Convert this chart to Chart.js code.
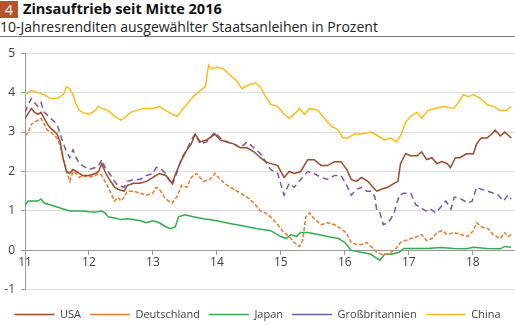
<!DOCTYPE html>
<html>
<head>
<meta charset="utf-8">
<script src="https://cdn.jsdelivr.net/npm/chart.js@4"></script>
<style>
  body { margin: 0; background: #fff; font-family: "Open Sans", sans-serif; }
  #wrap { position: relative; width: 515px; height: 325px; overflow: hidden; }
  #head { position: absolute; left: 0; top: 0; width: 515px; height: 36px; border-bottom: 1.5px solid #7a7a7a; }
  .t1 { position: absolute; left: 0; top: 0; height: 18px; line-height: 18px; font-size: 14.5px; color: #111; }
  .num { display: inline-block; width: 18px; height: 17px; line-height: 17px; margin-top: 1px; background: #b5532a; color: #fff; text-align: center; font-weight: normal; margin-right: 5px; vertical-align: top; }
  .t2 { position: absolute; left: 0; top: 18px; font-size: 14px; color: #222; line-height: 17px; }
  #box { position: absolute; left: 0; top: 40px; width: 515px; height: 290px; }
</style>
</head>
<body>
<div id="wrap">
  <div id="head">
    <div class="t1"><span class="num">4</span><b>Zinsauftrieb seit Mitte 2016</b></div>
    <div class="t2">10-Jahresrenditen ausgewählter Staatsanleihen in Prozent</div>
  </div>
  <div id="box"><canvas id="chart"></canvas></div>
</div>
<script>
// [Jahr (11 = 2011), Rendite in %]
const usa = [
  [11.0,3.35],[11.1,3.6],[11.15,3.5],[11.2,3.45],[11.25,3.5],[11.3,3.35],[11.35,3.2],[11.4,3.1],[11.5,2.95],[11.55,2.75],
  [11.6,2.3],[11.65,2.0],[11.7,1.95],[11.75,2.05],[11.8,2.0],[11.85,1.95],[11.9,1.9],[12.0,1.9],[12.1,1.95],[12.15,2.0],
  [12.2,2.2],[12.25,2.0],[12.3,1.85],[12.4,1.6],[12.45,1.55],[12.55,1.5],[12.6,1.65],[12.7,1.7],[12.8,1.7],[12.9,1.75],
  [13.0,1.85],[13.1,1.95],[13.2,1.9],[13.3,1.7],[13.37,2.0],[13.45,2.3],[13.53,2.55],[13.6,2.7],[13.66,2.95],[13.74,2.75],
  [13.84,2.8],[13.97,2.95],[14.05,2.8],[14.16,2.75],[14.26,2.7],[14.37,2.6],[14.47,2.6],[14.58,2.5],[14.68,2.35],[14.76,2.25],
  [14.84,2.2],[14.95,2.15],[15.05,1.85],[15.13,2.0],[15.21,1.95],[15.31,2.0],[15.42,2.3],[15.52,2.3],[15.63,2.15],[15.73,2.15],
  [15.84,2.25],[15.94,2.25],[16.03,2.05],[16.1,1.8],[16.18,1.75],[16.26,1.85],[16.36,1.75],[16.44,1.6],[16.5,1.5],[16.57,1.55],
  [16.67,1.6],[16.77,1.7],[16.83,1.75],[16.87,2.2],[16.95,2.45],[17.03,2.4],[17.13,2.4],[17.2,2.5],[17.28,2.3],[17.36,2.35],
  [17.44,2.2],[17.52,2.25],[17.6,2.2],[17.65,2.1],[17.73,2.35],[17.8,2.35],[17.9,2.45],[18.01,2.45],[18.06,2.7],[18.13,2.85],
  [18.22,2.85],[18.3,2.95],[18.35,3.05],[18.43,2.9],[18.5,3.0],[18.6,2.85]
];
const deutschland = [
  [11.0,2.9],[11.05,3.0],[11.1,3.2],[11.15,3.25],[11.2,3.3],[11.25,3.35],[11.3,3.2],[11.35,3.05],[11.4,3.0],[11.5,2.85],
  [11.55,2.65],[11.6,2.3],[11.65,2.0],[11.7,1.75],[11.75,2.0],[11.8,1.95],[11.85,1.85],[11.9,1.9],[12.0,1.85],[12.1,1.9],
  [12.15,1.95],[12.2,1.9],[12.25,1.75],[12.3,1.6],[12.4,1.25],[12.45,1.35],[12.5,1.25],[12.55,1.35],[12.6,1.5],[12.7,1.5],
  [12.8,1.45],[12.9,1.4],[13.0,1.45],[13.05,1.6],[13.1,1.55],[13.2,1.3],[13.3,1.2],[13.37,1.35],[13.45,1.65],[13.53,1.6],
  [13.6,1.85],[13.68,1.95],[13.79,1.75],[13.89,1.8],[13.97,1.95],[14.05,1.8],[14.16,1.65],[14.26,1.55],[14.37,1.45],[14.47,1.35],
  [14.58,1.2],[14.68,1.0],[14.76,0.95],[14.84,0.85],[14.95,0.65],[15.05,0.45],[15.13,0.35],[15.21,0.2],[15.29,0.1],[15.34,0.25],
  [15.39,0.85],[15.45,0.95],[15.52,0.8],[15.63,0.65],[15.73,0.7],[15.84,0.65],[15.94,0.55],[16.02,0.45],[16.1,0.2],[16.18,0.15],
  [16.26,0.15],[16.34,0.2],[16.41,0.1],[16.5,-0.05],[16.57,-0.1],[16.65,-0.1],[16.72,-0.05],[16.8,0.05],[16.87,0.2],[16.95,0.25],
  [17.03,0.3],[17.13,0.35],[17.2,0.4],[17.28,0.25],[17.36,0.3],[17.44,0.45],[17.52,0.5],[17.6,0.4],[17.71,0.45],[17.82,0.4],
  [17.92,0.35],[18.01,0.5],[18.06,0.7],[18.13,0.6],[18.24,0.55],[18.32,0.4],[18.43,0.3],[18.5,0.45],[18.55,0.35],[18.6,0.4]
];
const japan = [
  [11.0,1.15],[11.05,1.25],[11.1,1.25],[11.2,1.25],[11.25,1.3],[11.3,1.2],[11.4,1.15],[11.5,1.1],[11.6,1.05],[11.7,1.0],
  [11.8,1.0],[11.9,1.0],[12.0,0.98],[12.1,0.97],[12.2,1.0],[12.25,0.95],[12.3,0.85],[12.4,0.82],[12.5,0.78],[12.6,0.8],
  [12.7,0.78],[12.8,0.75],[12.9,0.7],[13.0,0.75],[13.1,0.7],[13.2,0.6],[13.28,0.55],[13.35,0.6],[13.4,0.85],[13.5,0.9],
  [13.63,0.85],[13.79,0.8],[14.0,0.75],[14.2,0.68],[14.42,0.62],[14.63,0.55],[14.84,0.5],[15.0,0.35],[15.08,0.3],[15.16,0.4],
  [15.24,0.35],[15.31,0.45],[15.42,0.45],[15.58,0.4],[15.73,0.35],[15.9,0.3],[16.0,0.2],[16.05,0.1],[16.1,0.0],[16.26,-0.05],
  [16.41,-0.1],[16.5,-0.2],[16.55,-0.25],[16.62,-0.1],[16.72,-0.1],[16.85,-0.05],[16.92,0.05],[17.08,0.05],[17.28,0.05],[17.5,0.07],
  [17.7,0.05],[17.9,0.04],[18.01,0.08],[18.22,0.05],[18.43,0.04],[18.5,0.1],[18.6,0.08]
];
const grossbritannien = [
  [11.0,3.5],[11.05,3.7],[11.1,3.85],[11.15,3.75],[11.2,3.65],[11.25,3.75],[11.3,3.5],[11.4,3.35],[11.5,3.2],[11.55,2.95],
  [11.6,2.7],[11.65,2.5],[11.7,2.35],[11.75,2.55],[11.8,2.35],[11.85,2.2],[11.9,2.15],[12.0,2.05],[12.1,2.1],[12.15,2.15],
  [12.2,2.3],[12.25,2.1],[12.3,2.0],[12.4,1.75],[12.45,1.65],[12.55,1.6],[12.6,1.75],[12.7,1.8],[12.8,1.8],[12.9,1.9],
  [13.0,1.95],[13.05,2.1],[13.1,2.1],[13.2,1.95],[13.3,1.65],[13.37,1.95],[13.45,2.35],[13.53,2.55],[13.6,2.8],[13.66,2.95],
  [13.74,2.7],[13.84,2.75],[13.97,3.0],[14.05,2.85],[14.16,2.75],[14.26,2.7],[14.37,2.6],[14.47,2.75],[14.58,2.6],[14.68,2.45],
  [14.76,2.25],[14.84,2.05],[14.95,1.95],[15.05,1.4],[15.13,1.7],[15.21,1.6],[15.31,1.8],[15.42,2.0],[15.52,1.95],[15.63,1.85],
  [15.73,1.8],[15.84,1.9],[15.94,1.9],[16.03,1.65],[16.1,1.4],[16.18,1.55],[16.26,1.6],[16.34,1.5],[16.41,1.5],[16.47,1.35],
  [16.5,1.0],[16.55,0.95],[16.6,0.65],[16.67,0.7],[16.72,0.8],[16.77,0.95],[16.85,1.4],[16.92,1.45],[17.03,1.45],[17.11,1.15],
  [17.18,1.1],[17.26,1.0],[17.34,1.05],[17.42,0.95],[17.5,1.1],[17.58,1.25],[17.66,1.05],[17.71,1.35],[17.82,1.3],[17.92,1.2],
  [17.99,1.25],[18.06,1.6],[18.13,1.55],[18.24,1.5],[18.32,1.45],[18.4,1.4],[18.48,1.25],[18.55,1.4],[18.6,1.3]
];
const china = [
  [11.0,3.95],[11.1,4.05],[11.2,4.0],[11.3,3.95],[11.4,3.85],[11.5,3.85],[11.6,3.95],[11.65,4.15],[11.7,4.1],[11.75,3.95],
  [11.8,3.7],[11.85,3.55],[11.9,3.5],[12.0,3.45],[12.1,3.55],[12.15,3.65],[12.2,3.6],[12.3,3.55],[12.4,3.4],[12.5,3.3],
  [12.55,3.35],[12.65,3.5],[12.75,3.55],[12.85,3.6],[13.0,3.6],[13.1,3.65],[13.2,3.55],[13.3,3.45],[13.38,3.4],[13.45,3.55],
  [13.53,3.7],[13.63,3.9],[13.74,4.05],[13.82,4.15],[13.87,4.7],[13.92,4.6],[14.0,4.65],[14.1,4.6],[14.2,4.45],[14.31,4.3],
  [14.39,4.1],[14.5,4.2],[14.6,4.25],[14.68,4.15],[14.76,3.9],[14.84,3.7],[14.95,3.65],[15.05,3.45],[15.13,3.35],[15.24,3.5],
  [15.29,3.6],[15.37,3.45],[15.45,3.6],[15.58,3.55],[15.68,3.35],[15.79,3.15],[15.9,3.05],[15.97,2.85],[16.05,2.85],[16.15,2.95],
  [16.26,2.95],[16.41,3.0],[16.52,2.9],[16.62,2.8],[16.72,2.85],[16.8,2.75],[16.87,2.9],[16.95,3.25],[17.03,3.4],[17.13,3.5],
  [17.2,3.35],[17.3,3.55],[17.41,3.6],[17.54,3.65],[17.7,3.6],[17.78,3.75],[17.85,3.95],[17.93,3.9],[18.01,3.95],[18.12,3.85],
  [18.22,3.7],[18.32,3.65],[18.43,3.55],[18.53,3.55],[18.6,3.65]
];
const seriesNames = ['USA', 'Deutschland', 'Japan', 'Großbritannien', 'China'];
const yearTicks = [11, 12, 13, 14, 15, 16, 17, 18];

const toPoints = (rows) => rows.map(([x, y]) => ({ x, y }));

const line = (label, rows, color, dash) => ({
    label,
    data: toPoints(rows),
    borderColor: color,
    backgroundColor: color,
    borderWidth: 1.5,
    borderDash: dash,
    pointRadius: 0,
    tension: 0
});

const tickFont = { family: 'Open Sans', size: 12 };

new Chart(document.getElementById('chart'), {
    type: 'line',
    data: {
        datasets: [
            line(seriesNames[0], usa, '#9b4a25', []),
            line(seriesNames[1], deutschland, '#ec7a2c', [4, 2]),
            line(seriesNames[2], japan, '#33ad4c', []),
            line(seriesNames[3], grossbritannien, '#7659ad', [6, 4]),
            line(seriesNames[4], china, '#fdbb1c', [])
        ]
    },
    options: {
        responsive: true,
        maintainAspectRatio: false,
        animation: false,
        layout: { padding: { top: 13, right: 0, left: 0, bottom: 0 } },
        scales: {
            x: {
                type: 'linear',
                position: { y: 0 },
                min: 11,
                max: 18.66,
                afterBuildTicks: (s) => { s.ticks = yearTicks.map(v => ({ value: v })); },
                ticks: { color: '#404040', font: tickFont, padding: 1, callback: (v) => String(v) },
                grid: { drawOnChartArea: false, drawTicks: true, tickLength: 4, color: '#9a9a9a' },
                border: { color: '#9a9a9a' }
            },
            y: {
                min: -1,
                max: 5,
                afterFit: (s) => { s.width = 25; },
                ticks: { stepSize: 1, color: '#404040', font: tickFont, padding: 6 },
                grid: { color: '#dcdcdc', tickLength: 4, tickColor: '#9a9a9a' },
                border: { color: '#9a9a9a' }
            }
        },
        plugins: {
            tooltip: { enabled: false },
            legend: {
                position: 'bottom',
                // empty title only adds the gap between plot and legend
                title: { display: true, text: '', font: { size: 1 }, padding: { top: 0, bottom: 9 } },
                labels: {
                    usePointStyle: true,
                    pointStyle: 'line',
                    pointStyleWidth: 40,
                    boxHeight: 8,
                    padding: 9,
                    color: '#404040',
                    font: { family: 'Open Sans', size: 11 }
                }
            }
        }
    }
});
</script>
</body>
</html>
